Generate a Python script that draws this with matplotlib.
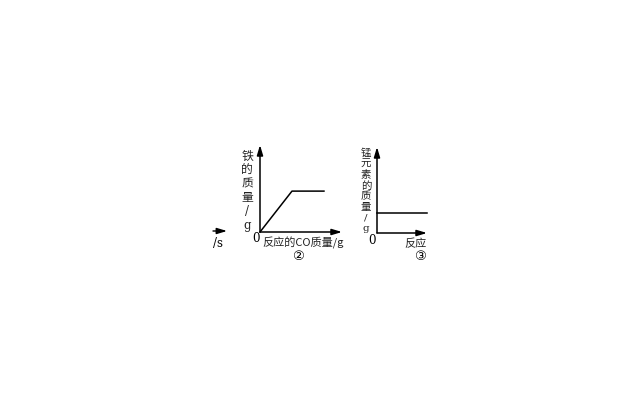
import matplotlib
matplotlib.use("Agg")
import matplotlib.pyplot as plt

plt.rcParams['font.family'] = ['Noto Sans CJK SC', 'DejaVu Sans']

# ── data ──────────────────────────────────────────────────────────────────────
# chart ②: iron mass vs. CO mass
co_mass   = [0, 3.9, 7.8]
iron_mass = [0, 4.7, 4.7]

# chart ③: manganese mass vs. reaction progress
mn_x    = [0, 10]
mn_mass = [2.3, 2.3]

label_2   = list("铁的质量") + ["/", "g"]
label_3   = list("锰元素的质量") + ["/", "g"]
xlabel_2  = "反应的CO质量/g"
xlabel_3  = "反应"

W, H = 640, 400
fig = plt.figure(figsize=(6.4, 4.0), dpi=100)
fig.patch.set_facecolor("white")

ARROW = dict(arrowstyle="-|>,head_length=0.6,head_width=0.18", color="black",
             lw=1.1, shrinkA=0, shrinkB=0)


def fx(x):
    return x / W


def fy(y):
    return 1 - y / H


def make_axes(left, right, bottom, top):
    ax = fig.add_axes([fx(left), fy(bottom), (right - left) / W, (bottom - top) / H])
    ax.set_xlim(0, 10)
    ax.set_ylim(0, 10)
    ax.axis("off")
    ax.annotate("", xy=(0, 1), xytext=(0, 0), xycoords="axes fraction",
                arrowprops=ARROW, annotation_clip=False)
    ax.annotate("", xy=(1, 0), xytext=(0, 0), xycoords="axes fraction",
                arrowprops=ARROW, annotation_clip=False)
    return ax


def stacked_label(chars, x, y0, step, size):
    for i, ch in enumerate(chars):
        fam = ['DejaVu Serif'] if ch in "/g" else None
        fig.text(fx(x), fy(y0 + i * step), ch, ha="center", va="center",
                 fontsize=size, family=fam, color="#222222")


# ── chart ② ───────────────────────────────────────────────────────────────────
ax2 = make_axes(260, 342, 232, 145)
ax2.plot(co_mass, iron_mass, color="black", lw=1.1, clip_on=False)
stacked_label(label_2, 247, 156, 14.0, 8.5)
fig.text(fx(256), fy(239), "0", ha="center", va="center", fontsize=8.5,
         family="DejaVu Serif")
fig.text(fx(262), fy(243), xlabel_2, ha="left", va="center", fontsize=8,
         color="#222222")
fig.text(fx(298), fy(257), "②", ha="center", va="center", fontsize=9.5,
         family=["DejaVu Sans"])

# ── chart ③ ───────────────────────────────────────────────────────────────────
ax3 = make_axes(377, 427, 233, 147)
ax3.plot(mn_x, mn_mass, color="black", lw=1.1, clip_on=False)
stacked_label(label_3, 366, 153, 10.8, 7.5)
fig.text(fx(372), fy(241), "0", ha="center", va="center", fontsize=8.5,
         family="DejaVu Serif")
fig.text(fx(415), fy(244), xlabel_3, ha="center", va="center", fontsize=8,
         color="#222222")
fig.text(fx(420), fy(257), "③", ha="center", va="center", fontsize=9.5,
         family=["DejaVu Sans"])

# ── fragment of the cropped chart on the left ─────────────────────────────────
ax2.annotate("", xy=(fx(227), fy(231)), xytext=(fx(213), fy(231)),
             xycoords="figure fraction", annotation_clip=False,
             arrowprops=dict(ARROW, lw=1.0))
fig.text(fx(218), fy(243), "/s", ha="center", va="center", fontsize=8.5,
         family="DejaVu Serif")

fig.savefig("out.png", dpi=100, facecolor="white")
